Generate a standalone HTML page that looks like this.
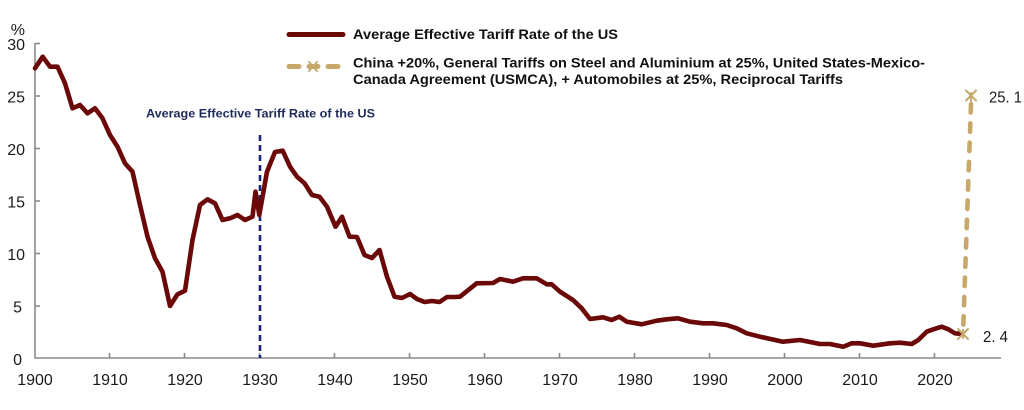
<!DOCTYPE html>
<html>
<head>
<meta charset="utf-8">
<style>
  html, body { margin: 0; padding: 0; background: #ffffff; }
  body { width: 1024px; height: 410px; overflow: hidden; }
  svg { display: block; }
  .tick { font-family: "Liberation Sans", Arial, sans-serif; font-size: 16px; fill: #1a1a1a; }
  .leg { font-family: "Liberation Sans", Arial, sans-serif; font-size: 14px; font-weight: bold; fill: #111; }
</style>
</head>
<body>
<svg width="1024" height="410" viewBox="0 0 1024 410" xmlns="http://www.w3.org/2000/svg">
  <rect x="0" y="0" width="1024" height="410" fill="#ffffff"/>

  <!-- Axes -->
  <g stroke="#8a8a8a" stroke-width="1.6" fill="none">
    <line x1="35" y1="43" x2="35" y2="358.5"/>
    <line x1="35" y1="358" x2="1001" y2="358"/>
    <!-- y ticks -->
    <line x1="35" y1="43.5" x2="40" y2="43.5"/>
    <line x1="35" y1="96" x2="40" y2="96"/>
    <line x1="35" y1="148.5" x2="40" y2="148.5"/>
    <line x1="35" y1="201" x2="40" y2="201"/>
    <line x1="35" y1="253.5" x2="40" y2="253.5"/>
    <line x1="35" y1="306" x2="40" y2="306"/>
    <!-- x ticks -->
    <line x1="109.5" y1="358" x2="109.5" y2="353"/>
    <line x1="184.5" y1="358" x2="184.5" y2="353"/>
    <line x1="259.5" y1="358" x2="259.5" y2="353"/>
    <line x1="334.5" y1="358" x2="334.5" y2="353"/>
    <line x1="409.5" y1="358" x2="409.5" y2="353"/>
    <line x1="484.5" y1="358" x2="484.5" y2="353"/>
    <line x1="559.5" y1="358" x2="559.5" y2="353"/>
    <line x1="634.5" y1="358" x2="634.5" y2="353"/>
    <line x1="709.5" y1="358" x2="709.5" y2="353"/>
    <line x1="784.5" y1="358" x2="784.5" y2="353"/>
    <line x1="859.5" y1="358" x2="859.5" y2="353"/>
    <line x1="934.5" y1="358" x2="934.5" y2="353"/>
  </g>

  <!-- Y labels -->
  <g class="tick" text-anchor="end">
    <text x="25" y="35">%</text>
    <text x="25" y="50">30</text>
    <text x="25" y="102.5">25</text>
    <text x="25" y="155">20</text>
    <text x="25" y="207.5">15</text>
    <text x="25" y="260">10</text>
    <text x="22" y="312.5">5</text>
    <text x="22" y="365">0</text>
  </g>

  <!-- X labels -->
  <g class="tick" text-anchor="middle">
    <text x="35" y="385">1900</text>
    <text x="110" y="385">1910</text>
    <text x="185" y="385">1920</text>
    <text x="260" y="385">1930</text>
    <text x="335" y="385">1940</text>
    <text x="410" y="385">1950</text>
    <text x="485" y="385">1960</text>
    <text x="560" y="385">1970</text>
    <text x="635" y="385">1980</text>
    <text x="710" y="385">1990</text>
    <text x="785" y="385">2000</text>
    <text x="860" y="385">2010</text>
    <text x="935" y="385">2020</text>
  </g>

  <!-- Navy dashed vertical at 1930 -->
  <line x1="260" y1="135" x2="260" y2="358" stroke="#1b2478" stroke-width="2.6" stroke-dasharray="6 4"/>
  <text x="146" y="117.5" font-family="Liberation Sans, Arial, sans-serif" font-size="11.5" font-weight="bold" fill="#1f2a5c" textLength="229" lengthAdjust="spacingAndGlyphs">Average Effective Tariff Rate of the US</text>

  <!-- Main series -->
  <polyline fill="none" stroke="#6b0808" stroke-width="4.6" stroke-linejoin="round" stroke-linecap="round"
    points="35,68.3 42.7,56.7 50,66.7 57.5,66.7 65,83.3 72.5,108.3 80,105 87.5,113.3 95,108.3 102.5,118.3 110,135 117.5,146.7 125,163.3 132.5,171.7 140,205 147.5,236.7 155,258.3 162.5,271.7 170,306 177.5,294.3 185,290.7 192.5,240 200,205 207.5,199.3 215,203.3 222.5,220 230,218.3 237.5,215 245,220 252.5,216.7 255.5,191.7 259.3,215 267,171.7 275,152 282.7,150.7 290,166.7 297,176.7 304.5,183.3 312,195 319.5,196.7 327,206.7 335.5,226.7 342,216.7 349.5,236.7 357,237 364.5,255 372,258 379.5,250 387,276.7 394.5,296.7 402,298 410,294 417,299 424.5,302 432,301 439.5,302 447,297 454.5,297 460,296.7 476.7,283.3 493,283 500,279 513,281.7 523,278.3 536.7,278.3 546.7,284.3 551.7,284.3 560,291.7 573,300 581.7,308.3 590,319 603,317.3 611.7,320 619.3,316.7 626.7,321.7 641.7,324.3 656.7,320.7 666.7,319.3 678,318.3 690,321.7 703,323.3 713,323.3 726.7,325 736.7,328.3 746.7,333.3 760,336.7 783,341.7 800,340 820,344 830,344 843.3,346.7 851.7,343.3 860,343.3 873.3,345.7 890,343.3 900,342.7 911.7,344 918.3,340 926.7,331.7 933.3,329.3 941.7,326.7 948.3,329.3 955,333.3 962,334"/>

  <!-- Gold dashed projection -->
  <line x1="971" y1="104" x2="963" y2="334" stroke="#c8a86a" stroke-width="4.6" stroke-linecap="round" stroke-dasharray="8.5 10.8"/>
  <g stroke="#c8a86a" stroke-width="2" stroke-linecap="round" fill="none">
    <line x1="966" y1="90.5" x2="976" y2="100.5"/>
    <line x1="976" y1="90.5" x2="966" y2="100.5"/>
    <line x1="971" y1="93" x2="971" y2="101"/>
    <line x1="958" y1="329" x2="968" y2="339"/>
    <line x1="968" y1="329" x2="958" y2="339"/>
    <line x1="963" y1="330" x2="963" y2="338"/>
  </g>
  <g class="tick">
    <text x="989" y="102.5" textLength="33" lengthAdjust="spacingAndGlyphs">25. 1</text>
    <text x="983" y="342" textLength="25" lengthAdjust="spacingAndGlyphs">2. 4</text>
  </g>

  <!-- Legend -->
  <line x1="289" y1="34.5" x2="343" y2="34.5" stroke="#6b0808" stroke-width="5" stroke-linecap="round"/>
  <text class="leg" x="353" y="39" textLength="265" lengthAdjust="spacingAndGlyphs">Average Effective Tariff Rate of the US</text>

  <g stroke="#c8a86a" stroke-width="5" stroke-linecap="round">
    <line x1="289" y1="66.5" x2="299" y2="66.5"/>
    <line x1="328" y1="66.5" x2="338" y2="66.5"/>
    <line x1="309" y1="66.5" x2="318" y2="66.5"/>
  </g>
  <g stroke="#c8a86a" stroke-width="2" stroke-linecap="round">
    <line x1="309" y1="62" x2="317" y2="71"/>
    <line x1="317" y1="62" x2="309" y2="71"/>
  </g>
  <text class="leg" x="353" y="67.5" textLength="572" lengthAdjust="spacingAndGlyphs">China +20%, General Tariffs on Steel and Aluminium at 25%, United States-Mexico-</text>
  <text class="leg" x="353" y="84" textLength="490" lengthAdjust="spacingAndGlyphs">Canada Agreement (USMCA), + Automobiles at 25%, Reciprocal Tariffs</text>
</svg>
</body>
</html>
